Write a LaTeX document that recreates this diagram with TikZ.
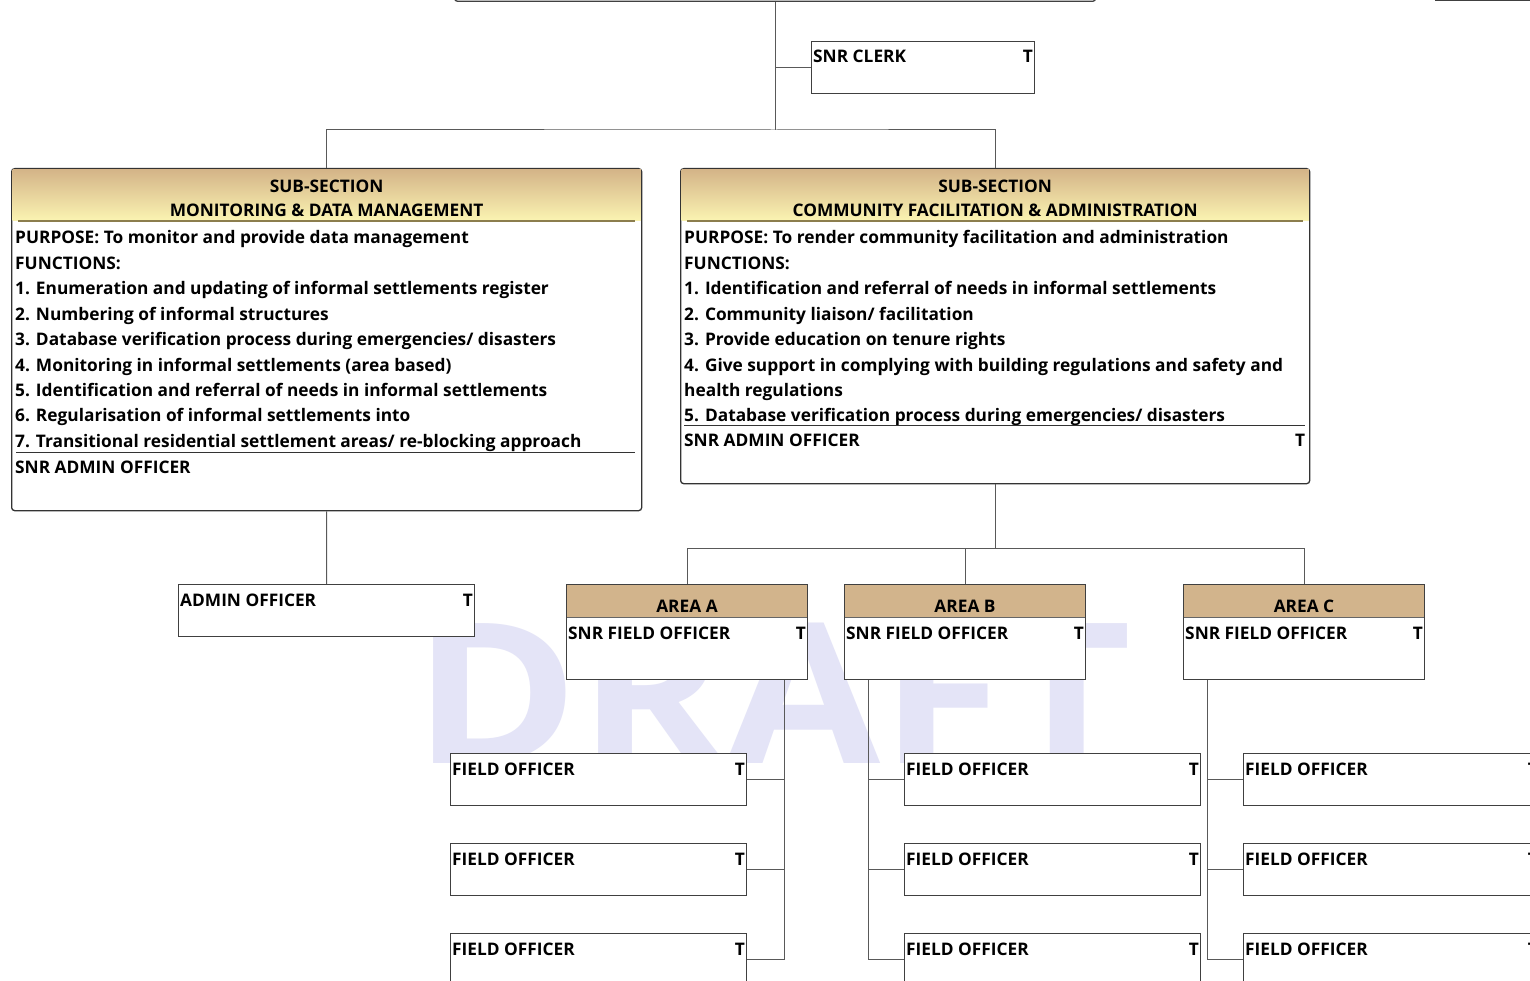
\documentclass[tikz,border=0pt]{standalone}
\usepackage{fontspec}
\setmainfont{Open Sans}
\usetikzlibrary{positioning}
\definecolor{hdtop}{HTML}{D4B488}
\definecolor{hdbot}{HTML}{FBF4B2}
\definecolor{hdline}{HTML}{8C7E4E}
\definecolor{areatan}{HTML}{D2B48C}
\definecolor{wmark}{HTML}{E4E4F7}
\begin{document}
\begin{tikzpicture}[x=1pt,y=-1pt,
  box/.style={draw=black!75,line width=1pt,fill=white,anchor=north west,inner sep=0pt},
  sub/.style={box,rounded corners=3pt,draw=black!80,line width=1.3pt},
  header/.style={top color=hdtop,bottom color=hdbot,draw=none},
  lbl/.style={font=\bfseries\fontsize{17.3}{20}\selectfont,inner sep=0pt,anchor=base west},
  post/.style={box,label={[lbl,anchor=base west,xshift=2pt,yshift=-22pt]north west:#1},
    label={[lbl,anchor=base east,xshift=-2pt,yshift=-22pt]north east:T}},
  fo/.style={post=FIELD OFFICER,minimum width=296pt,minimum height=52pt},
  area/.style={box,minimum width=241pt,minimum height=95pt,
    path picture={\fill[areatan] (path picture bounding box.north west) rectangle ([yshift=-33pt]path picture bounding box.north east);
      \draw[black!60] ([yshift=-33pt]path picture bounding box.north west) -- ([yshift=-33pt]path picture bounding box.north east);},
    label={[lbl,anchor=base,yshift=-28pt]north:#1},
    label={[lbl,anchor=base west,xshift=2pt,yshift=-55pt]north west:SNR FIELD OFFICER},
    label={[lbl,anchor=base east,xshift=-2pt,yshift=-55pt]north east:T}},
  link/.style={draw=black!65,line width=1pt}]
\useasboundingbox[fill=white] (0,0) rectangle (1530,981);

% watermark
\node[text=wmark,font=\bfseries\fontsize{196}{196}\selectfont,inner sep=0pt,anchor=base west] (draft) at (413,763) {\scalebox{1.14}[1]{DRAFT}};

% top level
\node[box,rounded corners=3pt,line width=1.3pt,minimum width=641pt,minimum height=40pt,anchor=south west] (top) at (454,2) {};
\node[box,line width=1.3pt,minimum width=160pt,minimum height=40pt,anchor=south west] (topright) at (1435,1) {};
\node[post=SNR CLERK,minimum width=223pt,minimum height=52pt] (clerk) at (811,41) {};
\path (top.south) ++(0,128) coordinate (hub);

% sub-sections
\node[sub,minimum width=630pt,minimum height=342pt] (msub) at (11,168) {};
\node[sub,minimum width=629pt,minimum height=315pt] (csub) at (680,168) {};
\shade[header] ([shift={(1.5pt,-1.5pt)}]msub.north west) rectangle ([shift={(-1.5pt,-53pt)}]msub.north east);
\shade[header] ([shift={(1.5pt,-1.5pt)}]csub.north west) rectangle ([shift={(-1.5pt,-53pt)}]csub.north east);
\node[lbl,anchor=base] (mh1) at ([yshift=-25pt]msub.north) {SUB-SECTION};
\node[lbl,anchor=base] (mh2) at ([yshift=-49pt]msub.north) {MONITORING \& DATA MANAGEMENT};
\node[lbl,anchor=base] (ch1) at ([yshift=-25pt]csub.north) {SUB-SECTION};
\node[lbl,anchor=base] (ch2) at ([yshift=-49pt]csub.north) {COMMUNITY FACILITATION \& ADMINISTRATION};
\draw[hdline,line width=1.2pt] ([shift={(7pt,-53pt)}]msub.north west) -- ([shift={(-7pt,-53pt)}]msub.north east);
\draw[hdline,line width=1.2pt] ([shift={(7pt,-53pt)}]csub.north west) -- ([shift={(-7pt,-53pt)}]csub.north east);
\foreach \t [count=\i from 0] in {PURPOSE: To monitor and provide data management,FUNCTIONS:,
  1. Enumeration and updating of informal settlements register,2. Numbering of informal structures,
  3. Database verification process during emergencies/ disasters,4. Monitoring in informal settlements (area based),
  5. Identification and referral of needs in informal settlements,6. Regularisation of informal settlements into,
  7. Transitional residential settlement areas/ re-blocking approach}
  \node[lbl] (mt\i) at ([shift={(4pt,{-76pt-25.4pt*\i})}]msub.north west) {\t};
\foreach \t [count=\i from 0] in {PURPOSE: To render community facilitation and administration,FUNCTIONS:,
  1. Identification and referral of needs in informal settlements,2. Community liaison/ facilitation,
  3. Provide education on tenure rights,4. Give support in complying with building regulations and safety and,
  health regulations,5. Database verification process during emergencies/ disasters}
  \node[lbl] (ct\i) at ([shift={(4pt,{-76pt-25.4pt*\i})}]csub.north west) {\t};
\draw[black!80] ([shift={(5pt,-284pt)}]msub.north west) -- ([shift={(-7pt,-284pt)}]msub.north east);
\draw[black!80] ([shift={(4pt,-257pt)}]csub.north west) -- ([shift={(-5pt,-257pt)}]csub.north east);
\node[lbl] (madm) at ([shift={(4pt,-305pt)}]msub.north west) {SNR ADMIN OFFICER};
\node[lbl] (cadm) at ([shift={(4pt,-278pt)}]csub.north west) {SNR ADMIN OFFICER};
\node[lbl,anchor=base east] (cadmT) at ([shift={(-5pt,-278pt)}]csub.north east) {T};

% lower posts
\node[post=ADMIN OFFICER,minimum width=296pt,minimum height=52pt] (admin) at (178,584) {};
\node[area=AREA A] (areaA) at (566,584) {};
\node[area=AREA B] (areaB) at (844,584) {};
\node[area=AREA C] (areaC) at (1183,584) {};
\path (csub.south) ++(0,64) coordinate (hub2);
\node[fo] (foA1) at (450,753) {};
\node[fo] (foA2) at (450,843) {};
\node[fo] (foA3) at (450,933) {};
\node[fo] (foB1) at (904,753) {};
\node[fo] (foB2) at (904,843) {};
\node[fo] (foB3) at (904,933) {};
\node[fo] (foC1) at (1243,753) {};
\node[fo] (foC2) at (1243,843) {};
\node[fo] (foC3) at (1243,933) {};

% connectors
\draw[link] (top.south) -- (hub);
\draw[link] (clerk.west) -- (clerk.west -| top.south);
\draw[link] (msub.north) |- (hub) -| (csub.north);
\draw[link] (msub.south) -- (admin.north);
\draw[link] (csub.south) -- (hub2);
\draw[link] (areaA.north) |- (hub2) -| (areaC.north);
\draw[link] (areaB.north) -- (areaB.north |- hub2);
\coordinate (vA) at ([xshift=-24pt]areaA.south east);
\coordinate (vB) at ([xshift=24pt]areaB.south west);
\coordinate (vC) at ([xshift=24pt]areaC.south west);
\draw[link] (vA) |- (foA3.east);
\draw[link] (foA1.east) -- (foA1.east -| vA);
\draw[link] (foA2.east) -- (foA2.east -| vA);
\draw[link] (vB) |- (foB3.west);
\draw[link] (foB1.west) -- (foB1.west -| vB);
\draw[link] (foB2.west) -- (foB2.west -| vB);
\draw[link] (vC) |- (foC3.west);
\draw[link] (foC1.west) -- (foC1.west -| vC);
\draw[link] (foC2.west) -- (foC2.west -| vC);
\end{tikzpicture}
\end{document}
